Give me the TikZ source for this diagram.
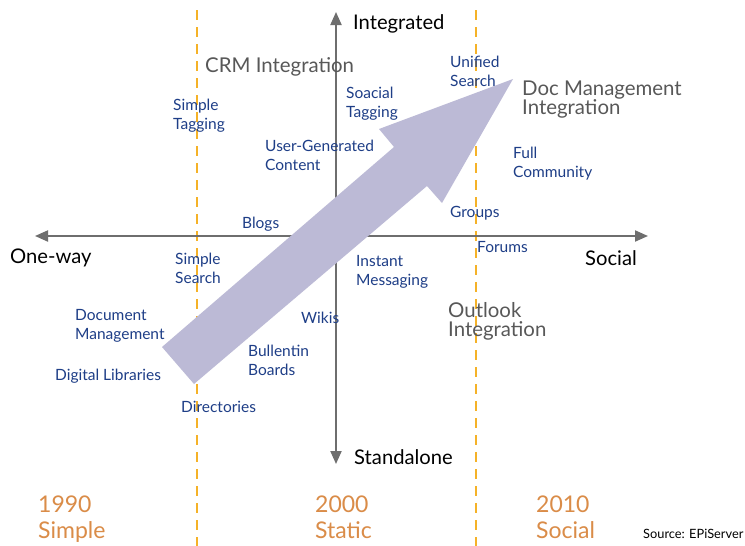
\documentclass[tikz,border=0pt]{standalone}
\usepackage{fontspec}
\setmainfont{Lato}
\usetikzlibrary{arrows.meta}
\definecolor{axisgray}{RGB}{110,110,110}
\definecolor{eraline}{RGB}{245,178,40}
\definecolor{arrowfill}{RGB}{188,186,214}
\definecolor{itemblue}{RGB}{30,62,135}
\definecolor{biggray}{RGB}{88,88,88}
\definecolor{yearorange}{RGB}{218,140,72}
\tikzset{
  axis/.style={draw=axisgray, line width=2pt, -{Triangle[length=13pt,width=11pt]}},
  era/.style={draw=eraline, line width=1.5pt, dash pattern=on 10pt off 7pt},
  item/.style={anchor=west, align=left, inner sep=0pt, text=itemblue,
    font=\fontsize{15.5}{19}\selectfont},
  big/.style={anchor=west, align=left, inner sep=0pt, text=biggray,
    font=\fontsize{20.4}{19}\selectfont},
  pole/.style={anchor=west, inner sep=0pt, text=black,
    font=\fontsize{20.2}{20}\selectfont},
  year/.style={anchor=west, align=left, inner sep=0pt, text depth=0pt,
    text=yearorange, font=\fontsize{23}{26}\selectfont},
}
\begin{document}
\begin{tikzpicture}[x=1pt,y=-1pt]
\useasboundingbox (0,0) rectangle (745,546);
\fill[white] (0,0) rectangle (745,546);

% era boundaries
\coordinate (e1t) at (197,10);  \coordinate (e1b) at (197,546);
\coordinate (e2t) at (476,10);  \coordinate (e2b) at (476,546);
\draw[era] (e1t) -- (e1b);
\draw[era] (e2t) -- (e2b);

% axes
\coordinate (ctr) at (336,236);
\coordinate (west) at (35,236);
\coordinate (east) at (648,236);
\coordinate (north) at (336,12);
\coordinate (south) at (336,464);
\draw[axis] (ctr) -- (west);
\draw[axis] (ctr) -- (east);
\draw[axis] (ctr) -- (north);
\draw[axis] (ctr) -- (south);

% big trend arrow
\fill[arrowfill] (162,347) -- (394,147) -- (379,129) -- (513,79)
  -- (442,203) -- (427,186) -- (194,384) -- cycle;

% pole labels
\node[pole] (integrated) at (353,24) {Integrated};
\node[pole] (standalone) at (354,457) {Standalone};
\node[pole] (oneway) at (10,258) {One-way};
\node[pole] (social) at (585,258) {Social};

% integration milestones
\node[big] (crm) at (205,67) {CRM Integration};
\node[big] (docmgmt) at (522,99.5) {Doc Management\\Integration};
\node[big] (outlook) at (448,321.5) {Outlook\\Integration};

% tools
\node[item] (unified) at (450,71) {Unified\\Search};
\node[item] (stag) at (173,115.5) {Simple\\Tagging};
\node[item] (soctag) at (346,103.5) {Soacial\\Tagging};
\node[item] (ugc) at (265,155.5) {User-Generated\\Content};
\node[item] (full) at (513,163.5) {Full\\Community};
\node[item] (groups) at (450,213) {Groups};
\node[item] (blogs) at (242,224) {Blogs};
\node[item] (forums) at (477,247) {Forums};
\node[item] (ssearch) at (175,268.5) {Simple\\Search};
\node[item] (im) at (356,271.5) {Instant\\Messaging};
\node[item] (wikis) at (301,318) {Wikis};
\node[item] (docm) at (75,325.5) {Document\\Management};
\node[item] (bb) at (248,360.5) {Bullentin\\Boards};
\node[item] (dl) at (55,376) {Digital Libraries};
\node[item] (dir) at (181,407) {Directories};

% eras
\node[year] (y1990) at (38,517) {1990\\Simple};
\node[year] (y2000) at (315,517) {2000\\Static};
\node[year] (y2010) at (536,517) {2010\\Social};

\node[anchor=west, inner sep=0pt, font=\fontsize{12.8}{12}\selectfont] (src) at (643,534) {Source: EPiServer};
\end{tikzpicture}
\end{document}
